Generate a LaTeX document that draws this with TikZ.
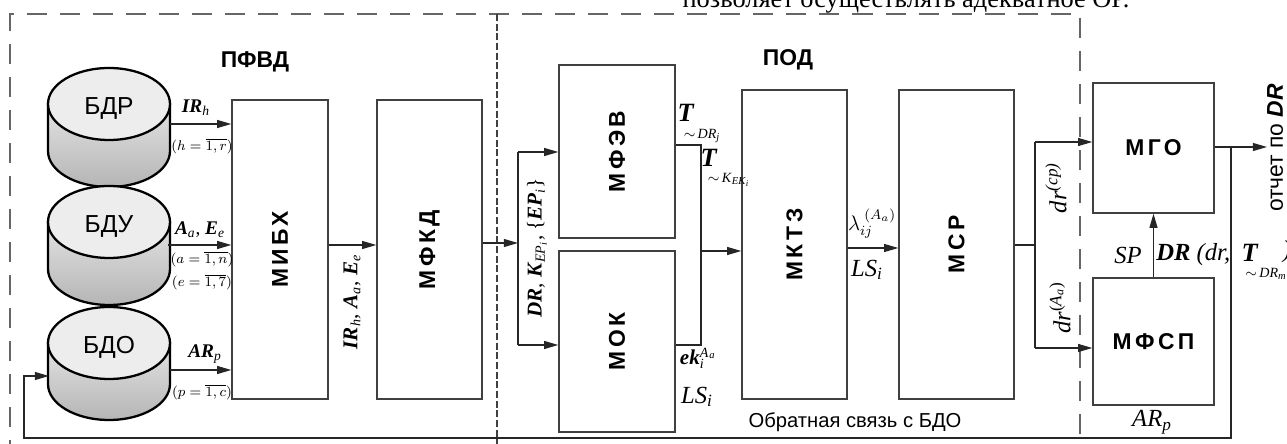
\RequirePackage{fix-cm}
\documentclass[tikz,border=0pt]{standalone}
\usepackage{amsmath}
\usepackage{bm}
\usepackage{fontspec}
\setmainfont{Liberation Serif}
\setsansfont{Liberation Sans}
\newfontfamily\boxfont[LetterSpace=15]{Liberation Sans}
\usetikzlibrary{arrows.meta}
\newcommand\bi[1]{\textbf{\textit{#1}}}
\newcommand\sbi[1]{\textsubscript{\textit{#1}}}
\newcommand\spi[1]{\textsuperscript{\textit{#1}}}
\newcommand\bx[5]{\node[box,minimum width={#4*0.2mm},minimum height={#5*0.2mm}] (#1) at (#2,#3) {};}
\newcommand\dbcyl[5]{%
  \path[top color=gray!22,bottom color=gray!58,draw=black,line width=1.3pt]
    (#1-61,#2+36) -- (#1-61,#3-36) arc[start angle=180,end angle=0,x radius=61,y radius=36]
    -- (#1+61,#2+36) -- cycle;
  \path[fill=gray!14,draw=black,line width=1.3pt] (#1,#2+36) ellipse[x radius=61,y radius=36];
  \node[cyltext] (#4) at (#1,#2+40) {#5};}
\begin{document}
\begin{tikzpicture}[x=0.2mm,y=-0.2mm,
  box/.style={draw=black!75,line width=0.8pt,inner sep=0pt,fill=white},
  blab/.style={font=\boxfont\bfseries\fontsize{13}{15}\selectfont,rotate=90,inner sep=0pt},
  hlab/.style={font=\boxfont\bfseries\fontsize{13}{15}\selectfont,inner sep=0pt},
  ttl/.style={font=\sffamily\bfseries\fontsize{13}{15}\selectfont,inner sep=0pt},
  cyltext/.style={font=\sffamily\fontsize{14}{16}\selectfont,inner sep=0pt},
  arr/.style={-{Triangle[length=8pt,width=4.5pt]},line width=0.7pt,draw=black!85},
  ln/.style={line width=0.7pt,draw=black!85},
  ml/.style={inner sep=0pt,font=\rmfamily\fontsize{11}{13}\selectfont},
  ms/.style={inner sep=0pt,font=\rmfamily\fontsize{8}{9}\selectfont},
  mb/.style={inner sep=0pt,font=\rmfamily\fontsize{13}{15}\selectfont},
  tb/.style={inner sep=0pt,font=\rmfamily\fontsize{15}{17}\selectfont},
  outerdash/.style={draw=black!60,line width=1.2pt,dash pattern=on 11.4pt off 7.4pt},
  innerdash/.style={draw=black!75,line width=0.6pt,dash pattern=on 4pt off 1.5pt}]
\useasboundingbox (0,0) rectangle (1287,444);

% top clipped text
\node[font=\rmfamily\fontsize{15}{17}\selectfont,anchor=base,inner sep=0pt] (toptext) at (906,8) {позволяет осуществлять адекватное ОР.};

% dashed frames
\draw[outerdash] (10,460) -- (10,14) -- (1080,14) -- (1080,460);
\draw[innerdash] (497,14) -- (497,460);

% titles
\node[ttl] (t1) at (255,62) {ПФВД};
\node[ttl] (t2) at (788,60) {ПОД};

% cylinders
\dbcyl{109}{68}{187}{bdr}{БДР}
\dbcyl{109}{186}{305}{bdu}{БДУ}
\dbcyl{109}{307}{420}{bdo}{БДО}

% boxes
\bx{mibx}{280}{249.5}{96}{299}
\bx{mfkd}{429.5}{249.5}{105}{299}
\bx{mfev}{617}{151.5}{116}{173}
\bx{mok}{617}{341.5}{116}{181}
\bx{mkt}{794.5}{244.5}{105}{309}
\bx{msr}{956.5}{244.5}{115}{309}
\bx{mgo}{1153.5}{148}{121}{130}
\bx{mfsp}{1153.5}{341.5}{121}{127}

\node[blab] (mibxl) at (mibx) {МИБХ};
\node[blab] (mfkdl) at (mfkd) {МФКД};
\node[blab] (mfevl) at (mfev) {МФЭВ};
\node[blab] (mokl) at (mok) {МОК};
\node[blab] (mktl) at (mkt) {МКТЗ};
\node[blab] (msrl) at (msr) {МСР};
\node[hlab] (mgol) at (mgo) {МГО};
\node[hlab] (mfspl) at (mfsp) {МФСП};

% cylinder outputs
\coordinate (bdrR) at (170,124);
\coordinate (bduR) at (168,245);
\coordinate (bdoR) at (170,370);
\draw[arr] (bdrR) -- (bdrR -| mibx.west);
\draw[arr] (bduR) -- (bduR -| mibx.west);
\draw[arr] (bdoR) -- (bdoR -| mibx.west);

\node[ml] (l1) at (196,108) {\bi{IR}\sbi{h}};
\node[ms] (l1b) at (202,146) {$(h=\overline{1,r})$};
\node[ml] (l2) at (200,230) {\bi{A}\sbi{a}, \bi{E}\sbi{e}};
\node[ms] (l2b) at (202,259) {$(a=\overline{1,n})$};
\node[ms] (l2c) at (202,282) {$(e=\overline{1,7})$};
\node[ml] (l3) at (205,354) {\bi{AR}\sbi{p}};
\node[ms] (l3b) at (202,392) {$(p=\overline{1,c})$};

% MIBX -> MFKD
\coordinate (a1) at (330,245);
\draw[arr] (mibx.east |- a1) -- (mfkd.west |- a1);
\node[ml,rotate=90,font=\rmfamily\fontsize{12}{14}\selectfont] (l4) at (352,302) {\bi{IR}\sbi{h}, \bi{A}\sbi{a}, \bi{E}\sbi{e}};

% MFKD -> split
\coordinate (j1) at (518,243);
\coordinate (j1t) at (518,152);
\coordinate (j1b) at (518,345);
\draw[arr] (mfkd.east |- j1) -- (j1);
\draw[ln] (j1t) -- (j1b);
\draw[arr] (j1t) -- (j1t -| mfev.west);
\draw[arr] (j1b) -- (j1b -| mok.west);
\node[ml,rotate=90,font=\rmfamily\fontsize{12}{14}\selectfont] (l5) at (537,248) {\bi{DR}, \bi{K}\textsubscript{\textit{EP}\textsubscript{\textit{i}}}, \{\bi{EP}\sbi{i}\}};

% MFEV/MOK -> MKT3
\coordinate (j2t) at (701,145);
\coordinate (j2b) at (701,345);
\coordinate (j2) at (701,251);
\draw[ln] (mfev.east |- j2t) -- (j2t) -- (j2b) -- (mok.east |- j2b);
\draw[arr] (j2) -- (j2 -| mkt.west);
\node[tb] (l6) at (686,113) {\bi{T}};
\node[ms] (l6b) at (702,136) {$\sim$\,\textit{DR}\sbi{j}};
\node[tb] (l7) at (709,158) {\bi{T}};
\node[ms] (l7b) at (729,180) {$\sim$\,\textit{K}\textsubscript{\textit{EK}\textsubscript{\textit{i}}}};
\node[ml,font=\rmfamily\fontsize{12}{14}\selectfont] (l8) at (697,358) {\bi{ek}\rlap{\spi{A}\textsuperscript{\textsubscript{\textit{a}}}}\sbi{i}\hphantom{\spi{A}}};
\node[mb,font=\rmfamily\fontsize{14}{16}\selectfont] (l9) at (697,397) {\textit{LS}\sbi{i}};

% MKT3 -> MSR
\coordinate (m1) at (870,248);
\draw[arr] (mkt.east |- m1) -- (msr.west |- m1);
\node[ml,font=\rmfamily\fontsize{12}{14}\selectfont] (l10) at (872,224) {$\lambda_{ij}^{\;(A_a)}$};
\node[mb,font=\rmfamily\fontsize{14}{16}\selectfont] (l11) at (867,270) {\textit{LS}\sbi{i}};

% MSR -> MGO / MFSP
\coordinate (j3) at (1035,245);
\coordinate (j3t) at (1035,142);
\coordinate (j3b) at (1035,348);
\draw[ln] (msr.east |- j3) -- (j3);
\draw[ln] (j3t) -- (j3b);
\draw[arr] (j3t) -- (j3t -| mgo.west);
\draw[arr] (j3b) -- (j3b -| mfsp.west);
\node[mb,rotate=90,font=\rmfamily\fontsize{14}{16}\selectfont] (l12) at (1056,188) {\textit{dr}\spi{(cp)}};
\node[mb,rotate=90,font=\rmfamily\fontsize{14}{16}\selectfont] (l13) at (1060,308) {\textit{dr}\textsuperscript{(\textit{A}\textsubscript{\textit{a}})}};

% MFSP -> MGO
\draw[arr] (mfsp.north) -- (mgo.south);
\node[mb,font=\rmfamily\fontsize{14}{16}\selectfont] (l14) at (1128,255) {\textit{SP}};
\node[mb,anchor=west,font=\rmfamily\fontsize{14}{16}\selectfont] (l15) at (1156,255) {\bi{DR} \textit{(dr,}};
\node[tb] (l16) at (1250,253) {\bi{T}};
\node[ms] (l16b) at (1266,274) {$\sim$\,\textit{DR}\sbi{m}};
\node[mb,font=\rmfamily\fontsize{14}{16}\selectfont] (l17) at (1287,252) {\textit{)}};
\node[mb,font=\rmfamily\fontsize{14}{16}\selectfont] (l18) at (1152,422) {\textit{AR}\sbi{p}};

% output and feedback
\coordinate (o1) at (1267,147);
\draw[arr] (mgo.east |- o1) -- (o1);
\node[font=\sffamily\fontsize{13}{15}\selectfont,rotate=90,inner sep=0pt] (rep) at (1275,148) {отчет по \textbf{\textit{DR}}};
\coordinate (f1) at (1231,147);
\coordinate (f2) at (1231,438);
\coordinate (f3) at (24,438);
\coordinate (f4) at (24,376);
\coordinate (f5) at (49,376);
\draw[arr] (f1) -- (f2) -- (f3) -- (f4) -- (f5);
\node[font=\sffamily\fontsize{11.5}{14}\selectfont,inner sep=0pt] (fb) at (855,422) {Обратная связь с БДО};
\end{tikzpicture}
\end{document}
